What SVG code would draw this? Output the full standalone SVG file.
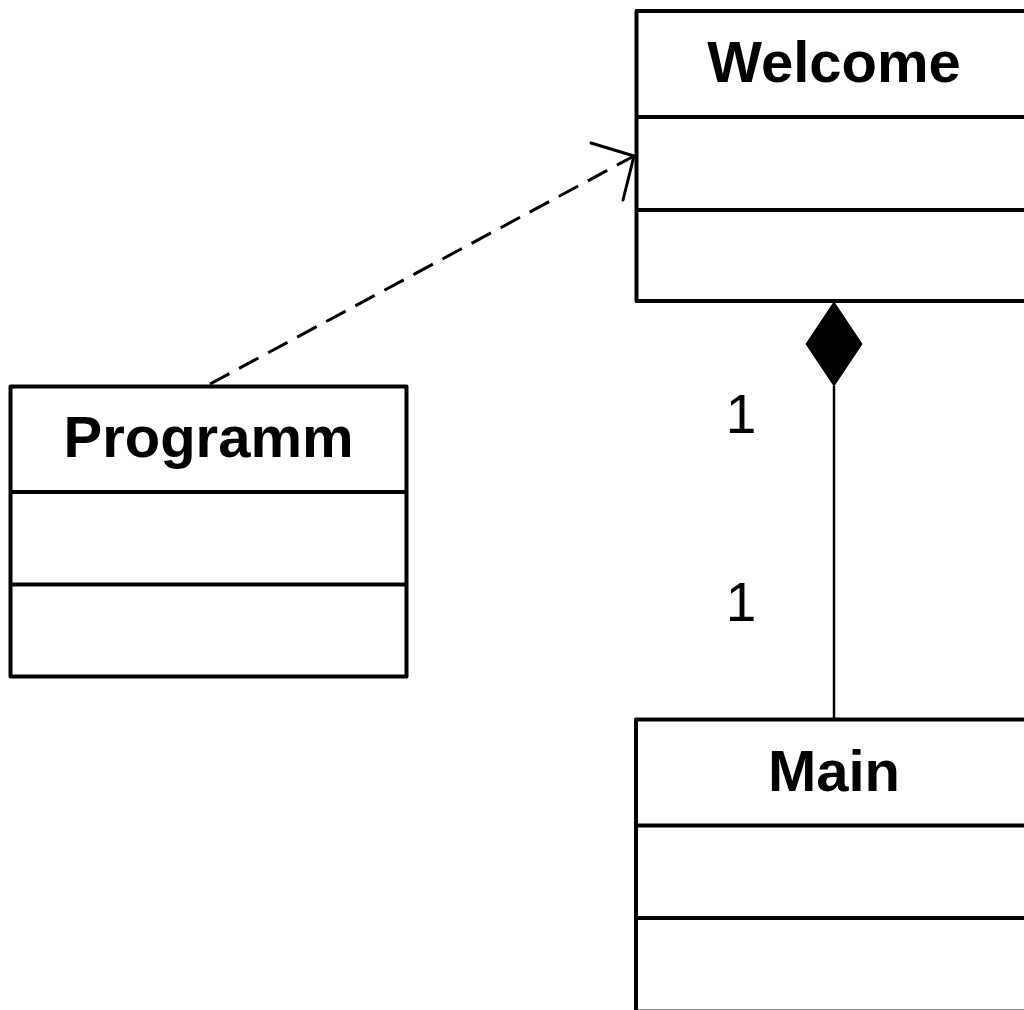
<svg xmlns="http://www.w3.org/2000/svg" width="1024" height="1010" viewBox="0 0 1024 1010">
  <style>
    .box { fill: #ffffff; stroke: #000000; stroke-width: 4; stroke-linejoin: round; }
    .sep { stroke: #000000; stroke-width: 4; }
    .name { font-family: "Liberation Sans", Arial, sans-serif; font-weight: bold; font-size: 58px; text-anchor: middle; fill: #000000; }
    .mult { font-family: "Liberation Sans", Arial, sans-serif; font-size: 55px; text-anchor: middle; fill: #000000; }
    .dep { fill: none; stroke: #000000; stroke-width: 3; stroke-dasharray: 22 11; }
    .head { fill: none; stroke: #000000; stroke-width: 3; stroke-linecap: round; stroke-linejoin: round; }
    .assoc { fill: none; stroke: #000000; stroke-width: 2.5; }
  </style>

  <!-- class Welcome -->
  <g id="welcome">
    <rect class="box" x="636.5" y="11" width="396" height="290"/>
    <line class="sep" x1="636.5" y1="117" x2="1032.5" y2="117"/>
    <line class="sep" x1="636.5" y1="210" x2="1032.5" y2="210"/>
    <text class="name" x="834" y="82">Welcome</text>
  </g>

  <!-- class Programm -->
  <g id="programm">
    <rect class="box" x="10.5" y="386.5" width="396" height="290"/>
    <line class="sep" x1="10.5" y1="492" x2="406.5" y2="492"/>
    <line class="sep" x1="10.5" y1="584.5" x2="406.5" y2="584.5"/>
    <text class="name" x="208.5" y="457">Programm</text>
  </g>

  <!-- class Main -->
  <g id="main">
    <rect class="box" x="636" y="719.5" width="396" height="292"/>
    <line class="sep" x1="636" y1="825.5" x2="1032" y2="825.5"/>
    <line class="sep" x1="636" y1="918" x2="1032" y2="918"/>
    <text class="name" x="834" y="791">Main</text>
  </g>

  <!-- connectors -->
  <g id="connectors">
    <!-- dependency Programm -> Welcome -->
    <line class="dep" x1="210" y1="384" x2="634" y2="156"/>
    <polyline class="head" points="591,143 634,156 623,200"/>
    <!-- composition Welcome <>- Main -->
    <line class="assoc" x1="834" y1="386" x2="834" y2="719"/>
    <polygon points="834,302 862,344 834,386 806,344" fill="#000000" stroke="#000000" stroke-width="1"/>
    <text class="mult" x="741" y="433">1</text>
    <text class="mult" x="741" y="621">1</text>
  </g>
</svg>
